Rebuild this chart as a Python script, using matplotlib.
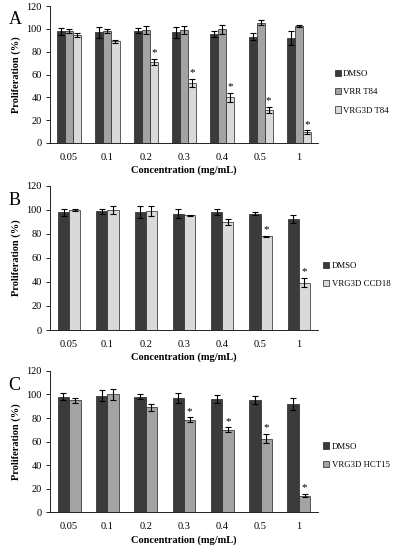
import numpy as np
import matplotlib.pyplot as plt

plt.rcParams['font.family'] = ['Liberation Serif', 'DejaVu Serif']

conc = ['0.05', '0.1', '0.2', '0.3', '0.4', '0.5', '1']

# panel A
a_dmso = [98, 97, 98.5, 97, 95.5, 93, 92]
a_dmso_err = [3, 5, 2.5, 5, 3, 3, 6]
a_vrr = [98, 98, 99, 99, 99.5, 105.5, 102.5]
a_vrr_err = [1.5, 1.5, 3.5, 3.5, 4, 2.5, 1]
a_vrg = [94.5, 89, 71, 53, 40, 29, 9.5]
a_vrg_err = [2, 1, 3, 3.5, 4, 2.5, 1.5]
a_star = [False, False, True, True, True, True, True]

# panel B
b_dmso = [98, 99, 98, 97, 98, 97, 92.5]
b_dmso_err = [3, 2, 5, 4, 2.5, 1.5, 3.5]
b_vrg = [100, 100, 99, 95.5, 90, 78, 39.5]
b_vrg_err = [1, 3, 4, 0.5, 2.5, 0.5, 3.5]
b_star = [False, False, False, False, False, True, True]

# panel C
c_dmso = [98, 99, 98, 97, 96, 95, 92]
c_dmso_err = [3, 4.5, 2, 4, 3.5, 3.5, 5]
c_hct = [95, 100, 89, 78.5, 70, 62.5, 14]
c_hct_err = [2, 5, 3, 2, 2, 4, 1.5]
c_star = [False, False, False, True, True, True, True]

DARK = '#3b3b3b'
MID = '#a3a3a3'
LIGHT = '#d9d9d9'

fig = plt.figure(figsize=(3.97, 5.5), dpi=100)
axA = fig.add_axes([0.126, 0.740, 0.675, 0.249])
axB = fig.add_axes([0.126, 0.400, 0.675, 0.262])
axC = fig.add_axes([0.126, 0.069, 0.675, 0.2565])

x = np.arange(len(conc))


def panel(ax, series, width, star, letter, leg_x, leg_y):
    n = len(series)
    for i, (vals, errs, col, lab) in enumerate(series):
        pos = x + (i - (n - 1) / 2) * width
        ax.bar(pos, vals, width, color=col, edgecolor='#222222', linewidth=0.5,
               label=lab, zorder=2)
        ax.errorbar(pos, vals, yerr=errs, fmt='none', ecolor='black',
                    elinewidth=0.8, capsize=2.2, capthick=0.8, zorder=3)
        if i == n - 1:
            for p, v, e, s in zip(pos, vals, errs, star):
                if s:
                    ax.text(p, v + e + 1.5, '*', ha='center', va='bottom',
                            fontsize=8)
    ax.set_xlim(-0.5, len(conc) - 0.5)
    ax.set_ylim(0, 120)
    ax.set_yticks(range(0, 121, 20))
    ax.set_xticks(x)
    ax.set_xticklabels(conc)
    ax.tick_params(axis='x', length=0, labelsize=7.5, pad=7)
    ax.tick_params(axis='y', length=3, width=0.6, labelsize=7.5, pad=3)
    for s in ['top', 'right']:
        ax.spines[s].set_visible(False)
    ax.spines['left'].set_linewidth(0.6)
    ax.spines['bottom'].set_linewidth(0.6)
    ax.set_xlabel('Concentration (mg/mL)', fontsize=7.5, fontweight='bold',
                  labelpad=3)
    ax.set_ylabel('Proliferation (%)', fontsize=7.5, fontweight='bold',
                  labelpad=4)
    ax.text(-0.155, 0.9, letter, transform=ax.transAxes, fontsize=13,
            ha='left', va='center')
    ax.legend(loc='center left', bbox_to_anchor=(leg_x, leg_y), frameon=False,
              fontsize=6.3, handlelength=0.7, handleheight=0.7,
              handletextpad=0.25, labelspacing=1.15, borderaxespad=0,
              borderpad=0)


panel(axA, [(a_dmso, a_dmso_err, DARK, 'DMSO'),
            (a_vrr, a_vrr_err, MID, 'VRR T84'),
            (a_vrg, a_vrg_err, LIGHT, 'VRG3D T84')],
      0.21, a_star, 'A', 1.063, 0.37)
panel(axB, [(b_dmso, b_dmso_err, DARK, 'DMSO'),
            (b_vrg, b_vrg_err, LIGHT, 'VRG3D CCD18')],
      0.29, b_star, 'B', 1.02, 0.38)
panel(axC, [(c_dmso, c_dmso_err, DARK, 'DMSO'),
            (c_hct, c_hct_err, MID, 'VRG3D HCT15')],
      0.3, c_star, 'C', 1.02, 0.40)

fig.savefig('out.png', dpi=100)
